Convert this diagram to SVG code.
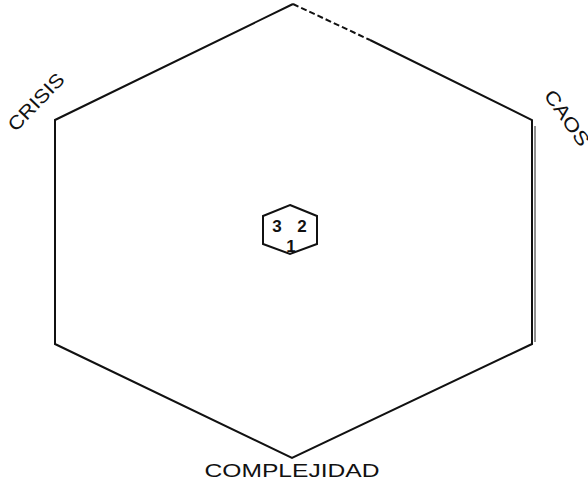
<svg xmlns="http://www.w3.org/2000/svg" width="588" height="483" viewBox="0 0 588 483">
<style>
.edge{fill:none;stroke:#111;stroke-width:2;stroke-linejoin:miter}
.lbl{font-family:"Liberation Sans",Arial,sans-serif;font-size:19px;fill:#111}
.num{font-family:"Liberation Sans",Arial,sans-serif;font-size:17px;font-weight:bold;fill:#111;text-anchor:middle}
</style>
<rect width="588" height="483" fill="#fff"/>
<g id="connectors">
<polyline class="edge" points="370,40 532,120 532,344 292,458 55,344 55,120 293,4"/>
<line class="edge" x1="293" y1="4" x2="370" y2="40" stroke-dasharray="6,3" stroke-width="1.5" stroke="#444"/>
<line x1="535" y1="126" x2="535" y2="342" stroke="#222" stroke-width="1"/>
</g>
<g id="node-center">
<polygon class="edge" points="290,205 317,216 317,244 290,254 263,244 263,216"/>
<text class="num" x="277" y="232">3</text>
<text class="num" x="302" y="232">2</text>
<text class="num" x="291" y="252">1</text>
</g>
<g id="node-crisis">
<text class="lbl" text-anchor="middle" dominant-baseline="central" textLength="72" lengthAdjust="spacingAndGlyphs" transform="translate(36,102) rotate(-46)">CRISIS</text>
</g>
<g id="node-caos">
<text class="lbl" text-anchor="middle" dominant-baseline="central" textLength="64" lengthAdjust="spacingAndGlyphs" transform="translate(567,118) rotate(55)">CAOS</text>
</g>
<g id="node-complejidad">
<text class="lbl" x="292" y="477" text-anchor="middle" textLength="175" lengthAdjust="spacingAndGlyphs">COMPLEJIDAD</text>
</g>
</svg>
